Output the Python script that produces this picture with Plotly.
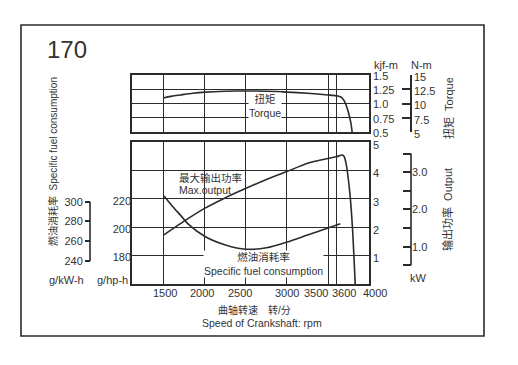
import plotly.graph_objects as go

# ---------------- data ----------------
rpm_ticks = [1500, 2000, 2500, 3000, 3500, 3600, 4000]
grid_rpm = [1500, 2000, 2500, 3000, 3500, 3600]

torque_rpm = [1500, 1600, 1700, 1850, 2000, 2250, 2500, 2750, 3000, 3250, 3500, 3620, 3670, 3700, 3740, 3780, 3800]
torque_kgfm = [1.10, 1.13, 1.15, 1.18, 1.20, 1.215, 1.22, 1.215, 1.20, 1.18, 1.15, 1.13, 1.10, 1.04, 0.89, 0.65, 0.43]

power_rpm = [1500, 1750, 2000, 2250, 2500, 2750, 3000, 3250, 3500, 3600, 3678, 3698, 3720, 3739, 3771, 3800, 3820, 3832]
power_ps = [1.73, 2.22, 2.67, 3.04, 3.37, 3.68, 3.96, 4.25, 4.42, 4.48, 4.54, 4.48, 4.25, 3.90, 3.07, 1.90, 0.73, 0.0]

fuel_rpm = [1500, 1600, 1700, 1800, 2000, 2250, 2500, 2750, 3000, 3250, 3500, 3650]
fuel_ghph = [222, 215, 208.5, 202, 193.5, 187.5, 184.5, 185.5, 189.5, 194.5, 199.5, 202.5]

ps_ticks = [1, 2, 3, 4, 5]
ghph_ticks = [180, 200, 220]
gkwh_ticks = [240, 260, 280, 300]
kw_ticks = [0.5, 1.0, 1.5, 2.0, 2.5, 3.0, 3.5]
kw_labels = ["", "1.0", "", "2.0", "", "3.0", ""]
kgfm_ticks = [0.5, 0.75, 1.0, 1.25, 1.5]
kgfm_labels = ["0.5", "0.75", "1.0", "1.25", "1.5"]
nm_ticks = [5, 7.5, 10, 12.5, 15]
nm_labels = ["5", "7.5", "10", "12.5", "15"]

PS_TO_KW = 0.7355
KGFM_TO_NM = 9.80665

# ---------------- layout helpers ----------------
W, H = 518, 365
ML, MR, MT, MB = 20, 20, 75, 81
PW, PH = W - ML - MR, H - MT - MB


def px(x):
    return (x - ML) / PW


def py(y):
    return (MT + PH - y) / PH


INK = "#2b2b2b"
TXT = "#333333"
FONT = "Liberation Sans, Arial, 'Noto Sans CJK SC', sans-serif"

fig = go.Figure()

# visible curves
fig.add_trace(go.Scatter(x=power_rpm, y=power_ps, mode="lines", xaxis="x", yaxis="y",
                         line=dict(color=INK, width=1.6, shape="spline", smoothing=0.6),
                         hoverinfo="skip", showlegend=False))
fig.add_trace(go.Scatter(x=fuel_rpm, y=fuel_ghph, mode="lines", xaxis="x", yaxis="y2",
                         line=dict(color=INK, width=1.6, shape="spline", smoothing=0.8),
                         hoverinfo="skip", showlegend=False))
fig.add_trace(go.Scatter(x=torque_rpm, y=torque_kgfm, mode="lines", xaxis="x2", yaxis="y4",
                         line=dict(color=INK, width=1.6, shape="spline", smoothing=0.6),
                         hoverinfo="skip", showlegend=False, cliponaxis=False))
# secondary-unit (invisible) traces keep the extra axes alive
fig.add_trace(go.Scatter(x=fuel_rpm, y=[v / PS_TO_KW for v in fuel_ghph], mode="lines", xaxis="x", yaxis="y3",
                         line=dict(color="rgba(0,0,0,0)", width=0), hoverinfo="skip", showlegend=False))
fig.add_trace(go.Scatter(x=power_rpm, y=[v * PS_TO_KW for v in power_ps], mode="lines", xaxis="x", yaxis="y5",
                         line=dict(color="rgba(0,0,0,0)", width=0), hoverinfo="skip", showlegend=False))
fig.add_trace(go.Scatter(x=torque_rpm, y=[v * KGFM_TO_NM for v in torque_kgfm], mode="lines", xaxis="x2", yaxis="y6",
                         line=dict(color="rgba(0,0,0,0)", width=0), hoverinfo="skip", showlegend=False))

xdom = [px(132), px(369)]
low_dom = [py(284), py(142)]
top_dom = [py(132), py(75)]

xcommon = dict(range=[1110, 4000], tickmode="array", tickvals=grid_rpm, showticklabels=False,
               ticks="", showgrid=True, gridcolor=INK, gridwidth=1.4, zeroline=False,
               showline=True, mirror=True, linecolor=INK, linewidth=1.6, domain=xdom)

tickfont = dict(size=11, color=TXT, family=FONT)

fig.update_layout(
    width=W, height=H,
    margin=dict(l=ML, r=MR, t=MT, b=MB),
    paper_bgcolor="white", plot_bgcolor="white",
    font=dict(family=FONT, color=TXT),
    showlegend=False,
    xaxis=dict(**xcommon, anchor="y"),
    xaxis2=dict(**xcommon, anchor="y4", matches="x"),
    yaxis=dict(domain=low_dom, range=[0, 5], side="right", anchor="x", tickmode="array",
               tickvals=ps_ticks, ticks="", showgrid=True, gridcolor=INK, gridwidth=1.4,
               zeroline=False, showline=True, mirror=True, linecolor=INK, linewidth=1.6,
               tickfont=tickfont, ticklabelshift=3),
    yaxis2=dict(overlaying="y", range=[160, 260], side="left", anchor="x", tickmode="array",
                tickvals=ghph_ticks, ticks="", showgrid=False, zeroline=False, showline=False,
                tickfont=tickfont, ticklabelshift=2),
    yaxis3=dict(overlaying="y", range=[216.7, 360.4], side="left", anchor="free", position=px(90),
                tickmode="array", tickvals=gkwh_ticks, ticks="outside", ticklen=5, tickwidth=1.6,
                tickcolor=INK, showgrid=False, zeroline=False, showline=False, tickfont=tickfont),
    yaxis5=dict(overlaying="y", range=[0, 3.81], side="right", anchor="free", position=px(411),
                tickmode="array", tickvals=kw_ticks, ticktext=kw_labels, ticks="inside", ticklen=8,
                tickwidth=1.6, tickcolor=INK, showgrid=False, zeroline=False, showline=False,
                tickfont=tickfont),
    yaxis4=dict(domain=top_dom, range=[0.5, 1.5], side="right", anchor="x2", tickmode="array",
                tickvals=kgfm_ticks, ticktext=kgfm_labels, ticks="", showgrid=True, gridcolor=INK,
                gridwidth=1.4, zeroline=False, showline=True, mirror=True, linecolor=INK,
                linewidth=1.6, tickfont=tickfont, ticklabelshift=1),
    yaxis6=dict(overlaying="y4", range=[5, 15], side="right", anchor="free", position=px(411),
                tickmode="array", tickvals=nm_ticks, ticktext=nm_labels, ticks="inside", ticklen=8,
                tickwidth=1.6, tickcolor=INK, showgrid=False, zeroline=False, showline=True,
                linecolor=INK, linewidth=1.6, tickfont=tickfont, ticklabelshift=2),
)

shapes = [
    # outer frame
    dict(type="rect", xref="paper", yref="paper", x0=px(21), x1=px(484), y0=py(336), y1=py(25),
         line=dict(color=INK, width=1.6), fillcolor="rgba(0,0,0,0)", layer="below"),
    # partial axis lines
    dict(type="line", xref="paper", yref="y3", x0=px(90), x1=px(90),
         y0=min(gkwh_ticks), y1=max(gkwh_ticks), line=dict(color=INK, width=1.6)),
    dict(type="line", xref="paper", yref="y5", x0=px(411), x1=px(411),
         y0=min(kw_ticks), y1=max(kw_ticks), line=dict(color=INK, width=1.6)),
]
fig.update_layout(shapes=shapes)

anns = []


def ann(text, x, y, size=10.5, xanchor="center", angle=0, bg=None, pad=1):
    d = dict(text=text, x=px(x), y=py(y), xref="paper", yref="paper", showarrow=False,
             font=dict(size=size, color=TXT, family=FONT), xanchor=xanchor, yanchor="middle",
             textangle=angle, borderpad=pad)
    if bg:
        d["bgcolor"] = bg
    anns.append(d)


# x tick labels
label_shift = {1500: 1, 2000: -3, 2500: -6, 3000: 0, 3500: -12, 3600: 8, 4000: 6}
for v in rpm_ticks:
    anns.append(dict(text=str(v), x=v, xref="x", y=py(293), yref="paper", showarrow=False,
                     xshift=label_shift[v], font=dict(size=11, color=TXT, family=FONT),
                     xanchor="center", yanchor="middle"))

ann("170", 45, 49, size=24, xanchor="left")
ann("kjf-m", 386, 65, size=11)
ann("N-m", 421, 65, size=11)
ann("kW", 418, 278, size=11)
ann("g/kW-h", 66, 280, size=11)
ann("g/hp-h", 112, 280, size=11)
ann("燃油消耗率  Specific fuel consumption", 53, 162, size=10, angle=-90)
ann("扭矩  Torque", 448, 108, size=11, angle=-90)
ann("输出功率  Output", 448, 210, size=11, angle=-90)
ann("最大输出功率", 177, 178, size=10.5, xanchor="left")
ann("Max.output", 177, 190, size=10.5, xanchor="left")
ann("燃油消耗率<br>Specific fuel consumption", 263, 264, size=10.5, bg="white", pad=0)
ann("扭矩<br>Torque", 265, 106, size=10.5, bg="white", pad=0)
ann("曲轴转速　转/分", 254, 310, size=10)
ann("Speed of Crankshaft: rpm", 262, 323, size=10.5)

fig.update_layout(annotations=anns)

fig.write_html("out.html")
